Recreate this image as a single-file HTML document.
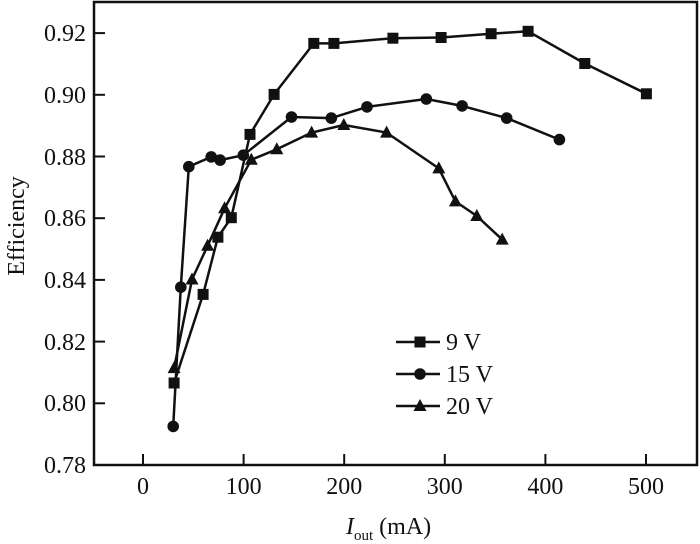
<!DOCTYPE html>
<html><head><meta charset="utf-8"><style>
html,body{margin:0;padding:0;background:#fff;}
svg{display:block;font-family:"Liberation Serif",serif;}
</style></head><body>
<svg width="700" height="544" viewBox="0 0 700 544" xmlns="http://www.w3.org/2000/svg">
<defs>
<rect id="sq" x="-5.5" y="-5.5" width="11" height="11" fill="#111"/>
<circle id="ci" r="5.8" fill="#111"/>
<polygon id="tr" points="0,-7 6.5,5 -6.5,5" fill="#111"/>
</defs>
<rect x="94" y="2" width="603" height="463" fill="none" stroke="#111" stroke-width="2.5"/>
<g stroke="#111" stroke-width="2">
<line x1="143" y1="465" x2="143" y2="454"/><line x1="243.6" y1="465" x2="243.6" y2="454"/><line x1="344.2" y1="465" x2="344.2" y2="454"/><line x1="444.8" y1="465" x2="444.8" y2="454"/><line x1="545.4" y1="465" x2="545.4" y2="454"/><line x1="646" y1="465" x2="646" y2="454"/>
<line x1="94" y1="403.3" x2="105" y2="403.3"/><line x1="94" y1="341.6" x2="105" y2="341.6"/><line x1="94" y1="279.9" x2="105" y2="279.9"/><line x1="94" y1="218.2" x2="105" y2="218.2"/><line x1="94" y1="156.5" x2="105" y2="156.5"/><line x1="94" y1="94.8" x2="105" y2="94.8"/><line x1="94" y1="33.1" x2="105" y2="33.1"/>
</g>
<g font-size="24" fill="#111" text-anchor="end">
<text x="86" y="473">0.78</text><text x="86" y="411">0.80</text><text x="86" y="350">0.82</text><text x="86" y="288">0.84</text><text x="86" y="226">0.86</text><text x="86" y="165">0.88</text><text x="86" y="103">0.90</text><text x="86" y="41">0.92</text>
</g>
<g font-size="24" fill="#111" text-anchor="middle">
<text x="143" y="494">0</text><text x="243.6" y="494">100</text><text x="344.2" y="494">200</text><text x="444.8" y="494">300</text><text x="545.4" y="494">400</text><text x="646" y="494">500</text>
</g>
<text x="346" y="534" font-size="24" fill="#111"><tspan font-style="italic">I</tspan><tspan font-size="15" dy="6">out</tspan><tspan dy="-6"> (mA)</tspan></text>
<text transform="translate(24,226) rotate(-90)" font-size="24" fill="#111" text-anchor="middle">Efficiency</text>
<g fill="none" stroke="#111" stroke-width="2.5" stroke-linejoin="round">
<polyline points="174.1,383 203.1,294.4 217.9,237.2 231.3,217.7 250,134.4 274.1,94.4 313.8,43.4 333.9,43.4 392.9,38.2 441.1,37.5 491.1,33.7 528.1,31.3 584.8,63.5 646.4,93.8"/>
<polyline points="173.2,426.4 180.8,287.2 188.8,166.7 211.2,156.9 220.1,160.1 243.3,155.2 291.5,117 331.3,118.1 367,106.9 426.3,99 462.1,105.9 506.7,118.1 559.4,139.6"/>
<polyline points="174.1,368.1 192,279.5 207.6,245.8 224.6,208.3 251.3,159.7 276.8,149.3 311.6,132.6 343.8,125 386.6,132.6 438.8,168.4 455.4,201.4 476.8,216 502.2,239.6"/>
<line x1="396" y1="342" x2="440" y2="342"/><line x1="396" y1="374" x2="440" y2="374"/><line x1="396" y1="406" x2="440" y2="406"/>
</g>
<g>
<use href="#sq" x="174.1" y="383"/><use href="#sq" x="203.1" y="294.4"/><use href="#sq" x="217.9" y="237.2"/><use href="#sq" x="231.3" y="217.7"/><use href="#sq" x="250" y="134.4"/><use href="#sq" x="274.1" y="94.4"/><use href="#sq" x="313.8" y="43.4"/><use href="#sq" x="333.9" y="43.4"/><use href="#sq" x="392.9" y="38.2"/><use href="#sq" x="441.1" y="37.5"/><use href="#sq" x="491.1" y="33.7"/><use href="#sq" x="528.1" y="31.3"/><use href="#sq" x="584.8" y="63.5"/><use href="#sq" x="646.4" y="93.8"/>
<use href="#ci" x="173.2" y="426.4"/><use href="#ci" x="180.8" y="287.2"/><use href="#ci" x="188.8" y="166.7"/><use href="#ci" x="211.2" y="156.9"/><use href="#ci" x="220.1" y="160.1"/><use href="#ci" x="243.3" y="155.2"/><use href="#ci" x="291.5" y="117"/><use href="#ci" x="331.3" y="118.1"/><use href="#ci" x="367" y="106.9"/><use href="#ci" x="426.3" y="99"/><use href="#ci" x="462.1" y="105.9"/><use href="#ci" x="506.7" y="118.1"/><use href="#ci" x="559.4" y="139.6"/>
<use href="#tr" x="174.1" y="368.1"/><use href="#tr" x="192" y="279.5"/><use href="#tr" x="207.6" y="245.8"/><use href="#tr" x="224.6" y="208.3"/><use href="#tr" x="251.3" y="159.7"/><use href="#tr" x="276.8" y="149.3"/><use href="#tr" x="311.6" y="132.6"/><use href="#tr" x="343.8" y="125"/><use href="#tr" x="386.6" y="132.6"/><use href="#tr" x="438.8" y="168.4"/><use href="#tr" x="455.4" y="201.4"/><use href="#tr" x="476.8" y="216"/><use href="#tr" x="502.2" y="239.6"/>
<use href="#sq" x="420" y="342"/><use href="#ci" x="420" y="374"/><use href="#tr" x="420" y="406"/>
</g>
<g font-size="24" fill="#111">
<text x="446" y="350">9 V</text><text x="446" y="382">15 V</text><text x="446" y="414">20 V</text>
</g>
</svg>
</body></html>
